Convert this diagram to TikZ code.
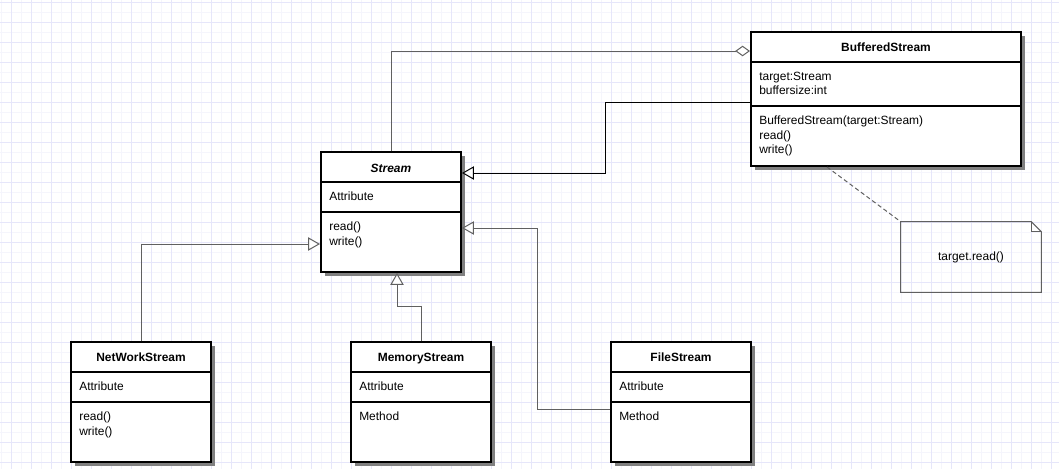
\documentclass[tikz,border=0pt]{standalone}
\usepackage{fontspec}
\setmainfont{Liberation Sans}
\usetikzlibrary{arrows.meta,shadows,calc}
\definecolor{gridlight}{RGB}{245,245,252}
\definecolor{griddark}{RGB}{230,230,250}
\definecolor{linkgray}{RGB}{96,96,96}
\newcommand{\umlfont}{\fontsize{8.5}{10}\selectfont}
\tikzset{
  classbox/.style={draw, line width=1.4pt, fill=white, inner sep=0,
    minimum width=3.5cm, minimum height=3cm,
    drop shadow={shadow xshift=0.11cm, shadow yshift=-0.11cm, fill=black!50, opacity=1}},
  divider/.style={line width=1.4pt},
  title/.style={anchor=base, inner sep=0, font=\umlfont\bfseries},
  members/.style={anchor=north west, inner sep=0, align=left, font=\umlfont},
  notebox/.style={inner sep=0, minimum width=3.5cm, minimum height=1.75cm, font=\umlfont},
  inherit/.style={linkgray, line width=0.7pt, -{Triangle[open, length=8.5pt, width=9.5pt, fill=white]}},
  aggreg/.style={linkgray, line width=0.7pt, -{Diamond[open, length=10.5pt, width=7.5pt, fill=white]}},
}
\begin{document}
\begin{tikzpicture}[x=0.025cm, y=-0.025cm]
\useasboundingbox (0,0) rectangle (1059,469);
\fill[white] (0,0) rectangle (1059,469);
% grid
\foreach \x in {1,11,...,1059} \draw[gridlight, line width=0.6pt] (\x,0) -- (\x,469);
\foreach \y in {2,12,...,469} \draw[gridlight, line width=0.6pt] (0,\y) -- (1059,\y);
\foreach \x in {11,31,...,1059} \draw[griddark, line width=0.6pt] (\x,0) -- (\x,469);
\foreach \y in {2,22,...,469} \draw[griddark, line width=0.6pt] (0,\y) -- (1059,\y);
%
\node[classbox] (stream) at (391,212) {};
\node[title, font=\umlfont\bfseries\itshape] (streamT) at (391,172) {Stream};
\node[members] (streamA) at (329,192) {Attribute};
\node[members] (streamM) at (329,222) {read()\\write()};
\draw[divider] (321,182) -- (461,182);
\draw[divider] (321,212) -- (461,212);
%
\node[classbox, minimum width=6.75cm, minimum height=3.35cm] (buffered) at (886,99) {};
\node[title] (bufferedT) at (886,51) {BufferedStream};
\node[members] (bufferedA) at (759,72) {target:Stream\\buffersize:int};
\node[members] (bufferedM) at (759,116) {BufferedStream(target:Stream)\\read()\\write()};
\draw[divider] (751,62) -- (1021,62);
\draw[divider] (751,106) -- (1021,106);
%
\node[classbox] (network) at (141,402) {};
\node[title] (networkT) at (141,361) {NetWorkStream};
\node[members] (networkA) at (79,382) {Attribute};
\node[members] (networkM) at (79,412) {read()\\write()};
\draw[divider] (71,372) -- (211,372);
\draw[divider] (71,402) -- (211,402);
%
\node[classbox] (memory) at (421,402) {};
\node[title] (memoryT) at (421,361) {MemoryStream};
\node[members] (memoryA) at (359,382) {Attribute};
\node[members] (memoryM) at (359,412) {Method};
\draw[divider] (351,372) -- (491,372);
\draw[divider] (351,402) -- (491,402);
%
\node[classbox] (file) at (681,402) {};
\node[title] (fileT) at (681,361) {FileStream};
\node[members] (fileA) at (619,382) {Attribute};
\node[members] (fileM) at (619,412) {Method};
\draw[divider] (611,372) -- (751,372);
\draw[divider] (611,402) -- (751,402);
%
\node[notebox] (note) at (971,257) {target.read()};
\draw[linkgray, line width=0.7pt] (note.north west) -- ($(note.north east)+(-10,0)$)
  -- ($(note.north east)+(0,10)$) -- (note.south east) -- (note.south west) -- cycle;
\draw[linkgray, line width=0.7pt] ($(note.north east)+(-10,0)$) |- ($(note.north east)+(0,10)$);
%
\draw[aggreg] (stream.north) |- (buffered.west |- bufferedT.base);
\draw[inherit, black] ($(buffered.north west)+(0,71)$) -| ($(stream.north east)+(143,22)$)
  -- ($(stream.north east)+(0,22)$);
\draw[inherit] (network.north) |- ($(stream.north west)+(0,93)$);
\draw[inherit] (memory.north) -- ++(0,-35) -| ($(stream.south)+(6,0)$);
\draw[inherit] ($(file.north west)+(0,68)$) -| ($(stream.north east)+(75,77)$)
  -- ($(stream.north east)+(0,77)$);
\draw[linkgray, line width=0.7pt, dash pattern=on 3pt off 2pt] ($(buffered.south)+(-59,0)$) -- (note.north west);
\end{tikzpicture}
\end{document}
